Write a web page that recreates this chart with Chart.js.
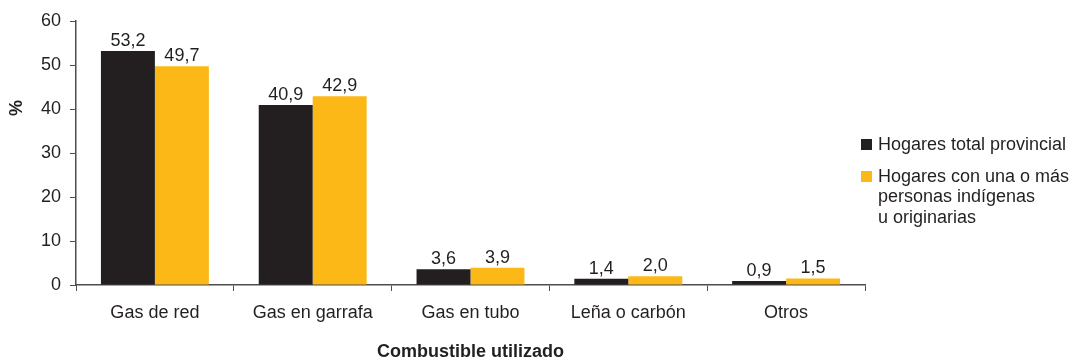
<!DOCTYPE html>
<html>
<head>
<meta charset="utf-8">
<script src="https://cdn.jsdelivr.net/npm/chart.js@4"></script>
<style>
  html, body { margin: 0; padding: 0; background: #fff; }
  #wrap { position: relative; width: 1078px; height: 360px; }
</style>
</head>
<body>
<div id="wrap"><canvas id="c" width="1078" height="360"></canvas></div>
<script>
const categories = ["Gas de red", "Gas en garrafa", "Gas en tubo", "Leña o carbón", "Otros"];
const totalProvincial = [53.2, 40.9, 3.6, 1.4, 0.9];
const indigenas = [49.7, 42.9, 3.9, 2.0, 1.5];
const seriesNames = ["Hogares total provincial", ["Hogares con una o más", "personas indígenas", "u originarias"]];
const yTicks = [0, 10, 20, 30, 40, 50, 60];
const xTitle = "Combustible utilizado";
const yTitle = "%";

const TXT = "#231f20";
const FONT = "'Liberation Sans', Arial, Helvetica, sans-serif";
const colors = ["#231f20", "#fbb817"];

const fmt = v => v.toFixed(1).replace(".", ",");

const extras = {
  id: "extras",
  afterDatasetsDraw(chart) {
    const ctx = chart.ctx;
    ctx.save();
    ctx.fillStyle = TXT;
    ctx.font = "18px " + FONT;
    ctx.textAlign = "center";
    ctx.textBaseline = "alphabetic";
    chart.data.datasets.forEach((ds, i) => {
      chart.getDatasetMeta(i).data.forEach((bar, j) => {
        ctx.fillText(fmt(ds.data[j]), bar.x, bar.y - 5);
      });
    });
    ctx.restore();
  },
  afterDraw(chart) {
    const ctx = chart.ctx;
    const ca = chart.chartArea;
    ctx.save();
    ctx.fillStyle = TXT;
    // x title
    ctx.font = "bold 18px " + FONT;
    ctx.textAlign = "center";
    ctx.textBaseline = "middle";
    ctx.fillText(xTitle, (ca.left + ca.right) / 2, 352);
    // y title
    ctx.save();
    ctx.translate(17, 108);
    ctx.rotate(-Math.PI / 2);
    ctx.font = "bold 18px " + FONT;
    ctx.fillText(yTitle, 0, 0);
    ctx.restore();
    // legend
    ctx.font = "18px " + FONT;
    ctx.textAlign = "left";
    ctx.textBaseline = "middle";
    const boxX = 861, textX = 878;
    const entries = [{ y: 145 }, { y: 177 }];
    seriesNames.forEach((name, i) => {
      const y0 = entries[i].y;
      ctx.fillStyle = colors[i];
      ctx.fillRect(boxX, y0 - 6, 11, 11);
      ctx.fillStyle = TXT;
      const lines = Array.isArray(name) ? name : [name];
      lines.forEach((ln, k) => ctx.fillText(ln, textX, y0 + k * 20.5));
    });
    ctx.restore();
  }
};

new Chart(document.getElementById("c"), {
  type: "bar",
  data: {
    labels: categories,
    datasets: [
      { label: "Hogares total provincial", data: totalProvincial, backgroundColor: colors[0] },
      { label: "Hogares con una o más personas indígenas u originarias", data: indigenas, backgroundColor: colors[1] }
    ]
  },
  options: {
    responsive: false,
    animation: false,
    devicePixelRatio: 1,
    layout: { padding: { top: 21, right: 213, left: 0, bottom: 0 } },
    datasets: { bar: { categoryPercentage: 0.684, barPercentage: 1.0 } },
    plugins: { legend: { display: false }, tooltip: { enabled: false } },
    scales: {
      x: {
        offset: true,
        grid: { offset: true, drawOnChartArea: false, drawTicks: true, tickLength: 6, color: "#4d4d4f" },
        border: { display: true, color: "#4d4d4f", width: 1.5 },
        ticks: { color: TXT, font: { family: FONT, size: 18 }, padding: 11, maxRotation: 0 },
        afterFit(scale) { scale.height = 75; }
      },
      y: {
        min: 0, max: 60,
        afterBuildTicks(scale) { scale.ticks = yTicks.map(v => ({ value: v })); },
        grid: { drawOnChartArea: false, drawTicks: true, tickLength: 6, color: "#4d4d4f" },
        border: { display: true, color: "#4d4d4f", width: 1.5 },
        ticks: { color: TXT, font: { family: FONT, size: 18 }, padding: 9 },
        afterFit(scale) { scale.width = 76; }
      }
    }
  },
  plugins: [extras]
});
</script>
</body>
</html>
